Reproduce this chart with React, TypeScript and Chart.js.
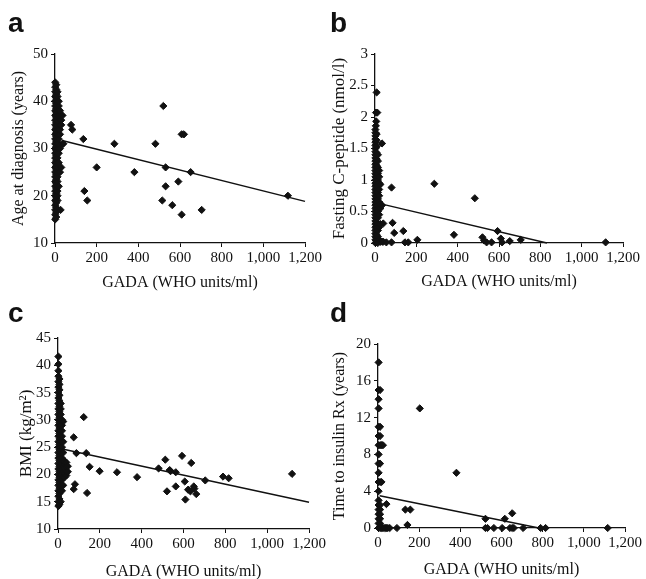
import React, { useEffect, useRef } from 'react';
import { Chart, registerables } from 'chart.js';

Chart.register(...registerables);

type Pt = [number, number];

const xAxisTitle = 'GADA (WHO units/ml)';
const xTickStep = 200;
const xMax = 1200;

// ---- Panel a: Age at diagnosis (years) vs GADA ----
const ageVsGada: Pt[] = [
  [1,15],[1,16],[1,17],[1,18],[1,19],[1,20],[1,21],[1,22],[1,23],[1,24],[1,25],[1,26],[1,27],[1,28],[1,29],[1,30],[1,31],[1,32],[1,33],[1,34],[1,35],[1,36],[1,37],[1,38],[1,39],[1,40],[1,41],[1,42],[1,43],[1,44],
  [6,15.5],[6,16.5],[6,17.5],[6,18.5],[6,19.5],[6,20.5],[6,21.5],[6,22.5],[6,23.5],[6,24.5],[6,25.5],[6,26.5],[6,27.5],[6,28.5],[6,29.5],[6,30.5],[6,31.5],[6,32.5],[6,33.5],[6,34.5],[6,35.5],[6,36.5],[6,37.5],[6,38.5],[6,39.5],[6,40.5],[6,41.5],[6,42.5],[6,43.5],
  [12,17],[12,19],[12,20],[12,21],[12,22],[12,23],[12,24],[12,25],[12,26],[12,27],[12,28],[12,29],[12,30],[12,31],[12,32],[12,33],[12,34],[12,35],[12,36],[12,37],[12,38],[12,39],[12,40],[12,41],[12,42],
  [18,22],[18,25],[18,27],[18,29],[18,30],[18,31],[18,32],[18,33],[18,34],[18,35],[18,36],[18,37],[18,38],[18,39],[18,40],
  [24,25],[24,30],[24,33],[24,34],[24,35],[24,36],[24,37],[24,38],
  [30,26],[30,35],[30,36],[30,37],[36,31],[36,37],[27,17],[40,31],
  [77,35],[83,34],[136,32],[141,21],[155,19],[200,26],[285,31],[381,25],[482,31],[520,39],[515,19],[531,26],[531,22],
  [563,18],[592,23],[608,33],[619,33],[608,16],[651,25],[704,17],[1118,20],
];
const ageFit: Pt[] = [[34, 31.7], [1200, 18.8]];

// ---- Panel b: Fasting C-peptide (nmol/l) vs GADA ----
const cpeptideVsGada: Pt[] = [
  [2,0],[2,0.05],[2,0.1],[2,0.15],[2,0.2],[2,0.25],[2,0.3],[2,0.35],[2,0.4],[2,0.45],[2,0.5],[2,0.55],[2,0.6],[2,0.65],[2,0.7],[2,0.75],[2,0.8],[2,0.85],[2,0.9],[2,0.95],
  [2,1],[2,1.05],[2,1.1],[2,1.15],[2,1.2],[2,1.25],[2,1.3],[2,1.35],[2,1.4],[2,1.45],[2,1.5],[2,1.55],[2,1.6],[2,1.65],[2,1.7],[2,1.75],[2,1.8],
  [8,0.03],[8,0.13],[8,0.23],[8,0.33],[8,0.43],[8,0.53],[8,0.63],[8,0.73],[8,0.83],[8,0.93],[8,1.03],[8,1.13],[8,1.23],[8,1.33],[8,1.43],[8,1.53],[8,1.63],[8,1.73],
  [14,0],[14,0.1],[14,0.2],[14,0.3],[14,0.4],[14,0.5],[14,0.6],[14,0.7],[14,0.8],[14,0.9],[14,1],[14,1.1],[14,1.2],[14,1.3],[14,1.4],
  [20,0.05],[20,0.25],[20,0.45],[20,0.55],[20,0.65],[20,0.75],[20,0.85],[20,0.95],[20,1.05],[20,1.15],
  [26,0.02],[26,0.3],[26,0.55],[26,0.62],[26,0.93],
  [34,1.58],[34,0.6],[34,0.02],[40,0.31],[40,0.02],[55,0.01],
  [8,2.39],[5,2.07],[11,2.07],[6,1.93],[4,1.86],
  [80,0.88],[287,0.94],[483,0.71],[85,0.32],[93,0.16],[137,0.19],[382,0.13],[205,0.05],[145,0.01],[161,0.01],[80,0.01],
  [520,0.09],[528,0.04],[540,0.01],[564,0.01],[593,0.19],[609,0.07],[615,0.01],[652,0.03],[705,0.05],[1116,0.01],
];
const cpeptideFit: Pt[] = [[29, 0.62], [832, 0]];

// ---- Panel c: BMI (kg/m2) vs GADA ----
const bmiVsGada: Pt[] = [
  [2,14.2],[2,15],[2,16],[2,17],[2,18],[2,19],[2,20],[2,21],[2,22],[2,23],[2,24],[2,25],[2,26],[2,27],[2,28],[2,29],[2,30],[2,31],[2,32],[2,33],[2,34],[2,35],[2,36],[2,37],[2,38],[2,39],[2,40.2],[2,41.6],
  [7,14.5],[7,15.5],[7,16.5],[7,17.5],[7,18.5],[7,19.5],[7,20.5],[7,21.5],[7,22.5],[7,23.5],[7,24.5],[7,25.5],[7,26.5],[7,27.5],[7,28.5],[7,29.5],[7,30.5],[7,31.5],[7,32.5],[7,33.5],[7,34.5],[7,35.5],[7,36.5],[7,37.5],
  [13,15],[13,17],[13,18],[13,19],[13,20],[13,21],[13,22],[13,23],[13,24],[13,25],[13,26],[13,27],[13,28],[13,29],[13,30],[13,31],[13,32],[13,33],
  [19,17],[19,18],[19,19],[19,20],[19,21],[19,22],[19,23],[19,24],[19,25],[19,26],[19,27],[19,28],[19,29],[19,30],
  [25,18],[25,19.5],[25,20.5],[25,21.5],[25,22.5],[25,24],[25,26],[25,29.7],
  [32,19.5],[32,20.2],[32,21],[32,21.8],[32,22.4],[40,19.8],[40,20.6],[40,21.4],[40,22.2],[47,20.5],[47,21.5],
  [75,26.8],[75,17.3],[81,18.2],[88,23.9],[123,30.5],[135,23.9],[139,16.6],[151,21.4],[199,20.6],[282,20.4],[378,19.5],
  [481,21.1],[513,22.7],[521,16.9],[534,20.8],[538,20.6],[563,20.4],[563,17.8],[593,23.4],[606,18.7],[609,15.4],
  [622,17.2],[633,16.9],[637,22.1],[649,17.8],[652,17.4],[661,16.4],[704,18.9],[789,19.6],[816,19.3],[1119,20.1],
];
const bmiFit: Pt[] = [[15, 24.7], [1200, 14.9]];

// ---- Panel d: Time to insulin Rx (years) vs GADA ----
const insulinVsGada: Pt[] = [
  [3,18],[3,15],[3,14],[3,13],[3,11],[3,10],[3,9],[3,8],[3,7],[3,6],[3,5],[3,4],[3,3],[3,2.5],[3,2],[3,1.5],[3,1],[3,0.5],[3,0],
  [10,15],[10,11],[10,10],[10,9],[10,7],[10,5],[10,2.5],[10,2],[10,1.5],[10,1],[10,0.5],[10,0],
  [17,9],[17,5],[17,0],[24,9],[24,0],[30,0],[36,0],[42,0],[48,0],[57,0],[41,2.6],
  [203,13],[381,6],[133,2],[157,2],[143,0.33],[522,1],[616,1],[652,1.6],
  [92,0],[522,0],[532,0],[563,0],[603,0],[641,0],[652,0],[660,0],[705,0],[790,0],[814,0],[1116,0],
];
const insulinFit: Pt[] = [[8, 3.5], [782, 0]];

const panelLetters = ['a', 'b', 'c', 'd'];
const yAxisTitles = ['Age at diagnosis (years)', 'Fasting C-peptide (nmol/l)', 'BMI (kg/m\u00B2)', 'Time to insulin Rx (years)'];
const yTitleSizes = [16, 17, 17, 16];
const yRanges: Pt[] = [[10, 50], [0, 3], [10, 45], [0, 20]];
const ySteps = [10, 0.5, 5, 4];

type PanelCfg = {
  L: number; T: number; W: number; H: number;
  plot: [number, number, number, number];
  xTitleY: number; yTitleX: number;
  letterX: number; letterY: number;
  points: Pt[]; fit: Pt[]; idx: number;
};

const panels: PanelCfg[] = [
  { L: 0, T: 0, W: 330, H: 300, plot: [55, 54, 305, 243], xTitleY: 282, yTitleX: 18.5, letterX: 8, letterY: 9, points: ageVsGada, fit: ageFit, idx: 0 },
  { L: 320, T: 0, W: 330, H: 300, plot: [375, 54, 623, 243], xTitleY: 281.5, yTitleX: 340, letterX: 330, letterY: 9, points: cpeptideVsGada, fit: cpeptideFit, idx: 1 },
  { L: 0, T: 290, W: 330, H: 300, plot: [58, 338, 309, 529], xTitleY: 571.5, yTitleX: 27, letterX: 8, letterY: 299, points: bmiVsGada, fit: bmiFit, idx: 2 },
  { L: 320, T: 290, W: 330, H: 300, plot: [378, 344, 625, 528], xTitleY: 569, yTitleX: 340, letterX: 330, letterY: 299, points: insulinVsGada, fit: insulinFit, idx: 3 },
];

const SERIF = '"Liberation Serif", "Times New Roman", Times, serif';
const INK = '#111';
const fmt = (v: any) => Number(v).toLocaleString('en-US');

function Panel({ cfg }: { cfg: PanelCfg }) {
  const ref = useRef<HTMLCanvasElement>(null);
  useEffect(() => {
    const c = cfg;
    const lh = 16 * 1.2;
    const ylh = yTitleSizes[c.idx] * 1.2;
    const xH = Math.round(c.xTitleY - c.plot[3] + lh / 2);
    const yW = c.plot[0] - c.L;
    const [yMin, yMax] = yRanges[c.idx];
    const axisCommon = {
      grid: { display: true, drawOnChartArea: false, drawTicks: true, tickLength: 4, color: INK, lineWidth: 1 },
      border: { display: true, color: INK, width: 1.3 },
    };
    const chart = new Chart(ref.current as HTMLCanvasElement, {
      type: 'scatter',
      data: {
        datasets: [
          {
            type: 'line',
            data: c.fit.map(([x, y]) => ({ x, y })),
            borderColor: INK,
            borderWidth: 1.4,
            pointRadius: 0,
            fill: false,
            clip: false,
          } as any,
          {
            data: c.points.map(([x, y]) => ({ x, y })),
            pointStyle: 'rectRot',
            pointRadius: 3.6,
            backgroundColor: INK,
            borderColor: INK,
            borderWidth: 1,
            clip: false,
          } as any,
        ],
      },
      options: {
        responsive: false,
        animation: false,
        events: [],
        layout: {
          padding: {
            left: 0,
            top: c.plot[1] - c.T,
            right: c.L + c.W - c.plot[2],
            bottom: c.T + c.H - c.plot[3] - xH,
          },
        },
        plugins: { legend: { display: false }, tooltip: { enabled: false } },
        scales: {
          x: {
            type: 'linear',
            min: 0,
            max: xMax,
            afterFit: (s: any) => { s.height = xH; },
            ticks: { stepSize: xTickStep, autoSkip: false, maxRotation: 0, minRotation: 0, padding: 2, color: INK, font: { family: SERIF, size: 15 }, callback: fmt },
            title: { display: true, text: xAxisTitle, color: INK, font: { family: SERIF, size: 16 }, padding: { top: 0, bottom: 0 } },
            ...axisCommon,
          },
          y: {
            type: 'linear',
            min: yMin,
            max: yMax,
            afterFit: (s: any) => { s.width = yW; },
            ticks: { stepSize: ySteps[c.idx], autoSkip: false, padding: 3, color: INK, font: { family: SERIF, size: 15 }, callback: fmt },
            title: { display: true, text: yAxisTitles[c.idx], color: INK, font: { family: SERIF, size: yTitleSizes[c.idx] }, padding: { top: c.yTitleX - c.L - ylh / 2, bottom: 0 } },
            ...axisCommon,
          },
        },
      } as any,
    });
    return () => chart.destroy();
  }, [cfg]);
  return (
    <>
      <canvas ref={ref} width={cfg.W} height={cfg.H} style={{ position: 'absolute', left: cfg.L, top: cfg.T, width: cfg.W, height: cfg.H }} />
      <div style={{ position: 'absolute', left: cfg.letterX, top: cfg.letterY, fontFamily: '"Liberation Sans", Arial, sans-serif', fontWeight: 'bold', fontSize: 28, lineHeight: '28px', color: INK }}>
        {panelLetters[cfg.idx]}
      </div>
    </>
  );
}

export default function App() {
  return (
    <div style={{ position: 'fixed', left: 0, top: 0, width: 646, height: 579, overflow: 'hidden', background: '#fff' }}>
      {panels.map((p) => <Panel key={p.idx} cfg={p} />)}
    </div>
  );
}
